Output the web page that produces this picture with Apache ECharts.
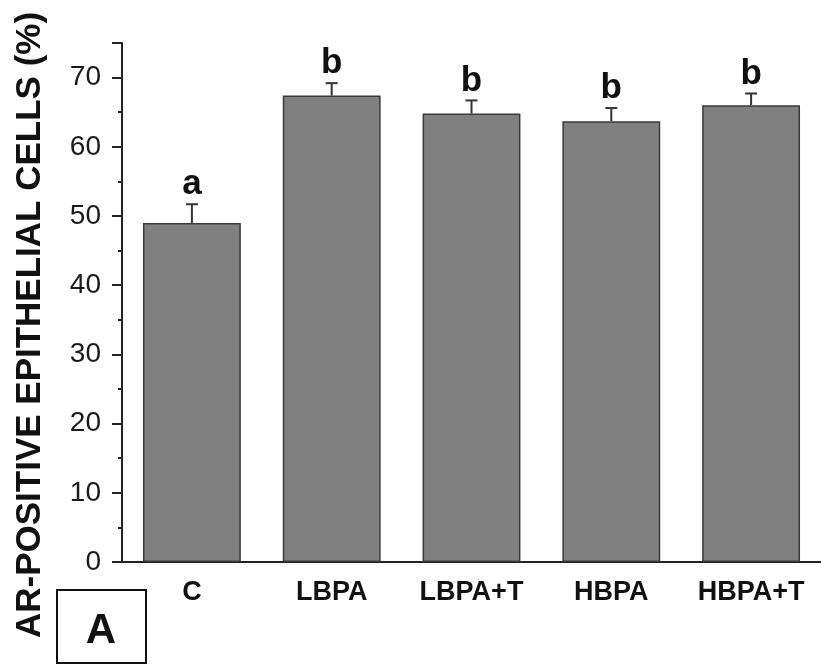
<!DOCTYPE html>
<html>
<head>
<meta charset="utf-8">
<script src="https://cdn.jsdelivr.net/npm/echarts@6/dist/echarts.min.js"></script>
<style>
  html, body { margin: 0; padding: 0; background: #fff; }
  #chart { width: 821px; height: 666px; }
</style>
</head>
<body>
<div id="chart"></div>
<script>
var categories = ["C", "LBPA", "LBPA+T", "HBPA", "HBPA+T"];
var means = [49.0, 67.4, 64.8, 63.7, 66.0];
var errors = [2.7, 1.8, 1.9, 1.9, 1.7];
var letters = ["a", "b", "b", "b", "b"];

var FONT = "Liberation Sans, Arial, sans-serif";
var chartDom = document.getElementById("chart");
var myChart = echarts.init(chartDom);
var option;

option = {
  animation: false,
  grid: { left: 122, top: 43, bottom: 104, right: -5 },
  xAxis: [
    {
      type: "category",
      data: categories,
      axisLine: { lineStyle: { color: "#222", width: 2 } },
      axisTick: { alignWithLabel: true, length: 7, lineStyle: { color: "#222", width: 2 } },
      axisLabel: {
        margin: 17,
        fontFamily: FONT,
        fontSize: 27,
        fontWeight: "bold",
        color: "#111",
      },
    },
    {
      type: "category",
      data: categories,
      position: "bottom",
      axisLine: { show: false },
      axisTick: { length: 5, lineStyle: { color: "#222", width: 2 } },
      axisLabel: { show: false },
    },
  ],
  yAxis: {
    type: "value",
    min: 0,
    max: 75,
    interval: 10,
    splitLine: { show: false },
    axisLine: { show: true, lineStyle: { color: "#222", width: 2 } },
    axisTick: { show: true, length: 10, lineStyle: { color: "#222", width: 2 } },
    minorTick: { show: true, splitNumber: 2, length: 4, lineStyle: { color: "#222", width: 2 } },
    axisLabel: {
      margin: 21,
      fontFamily: FONT,
      fontSize: 28,
      color: "#1a1a1a",
      showMaxLabel: false,
    },
  },
  series: [
    {
      type: "bar",
      data: means,
      barWidth: "70%",
      itemStyle: { color: "#808080", borderColor: "#3a3a3a", borderWidth: 1.5 },
    },
    {
      type: "custom",
      z: 5,
      data: categories.map(function (c, i) {
        return [i, means[i], errors[i]];
      }),
      renderItem: function (params, api) {
        var i = api.value(0);
        var base = api.coord([i, api.value(1)]);
        var top = api.coord([i, api.value(1) + api.value(2)]);
        return {
          type: "group",
          children: [
            {
              type: "line",
              shape: { x1: base[0], y1: base[1], x2: top[0], y2: top[1] },
              style: { stroke: "#333", lineWidth: 2 },
            },
            {
              type: "line",
              shape: { x1: top[0] - 6, y1: top[1], x2: top[0] + 6, y2: top[1] },
              style: { stroke: "#333", lineWidth: 2 },
            },
            {
              type: "text",
              x: top[0],
              y: top[1] - 2,
              style: {
                text: letters[params.dataIndex],
                fontFamily: FONT,
                fontSize: 35,
                fontWeight: "bold",
                fill: "#111",
                align: "center",
                verticalAlign: "bottom",
              },
            },
          ],
        };
      },
    },
  ],
  graphic: [
    {
      type: "text",
      x: 30,
      y: 325,
      rotation: Math.PI / 2,
      style: {
        text: "AR-POSITIVE EPITHELIAL CELLS (%)",
        fontFamily: FONT,
        fontSize: 35,
        fontWeight: "bold",
        fill: "#111",
        align: "center",
        verticalAlign: "middle",
      },
    },
    {
      type: "rect",
      shape: { x: 57, y: 590, width: 89, height: 73 },
      style: { fill: "#fff", stroke: "#111", lineWidth: 2 },
    },
    {
      type: "text",
      x: 101,
      y: 631,
      style: {
        text: "A",
        fontFamily: FONT,
        fontSize: 42,
        fontWeight: "bold",
        fill: "#111",
        align: "center",
        verticalAlign: "middle",
      },
    },
  ],
};

option && myChart.setOption(option);
</script>
</body>
</html>
